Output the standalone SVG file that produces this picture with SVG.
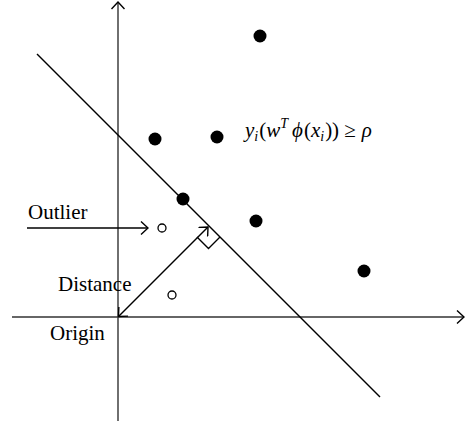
<svg xmlns="http://www.w3.org/2000/svg" width="465" height="421" viewBox="0 0 465 421">
<style>
.ln{stroke:#000;stroke-width:1.4;fill:none}
.ax{stroke:#333;stroke-width:1.4;fill:none}
.lbl{font-family:"Liberation Serif",serif;font-size:21px;fill:#000}
.fm{font-family:"Liberation Serif","DejaVu Serif",serif;font-size:21px;font-style:italic;fill:#000}
.up{font-style:normal}
.sb{font-size:14px}
.dot{fill:#000}
.open{fill:#fff;stroke:#000;stroke-width:1.3}
</style>
<defs>
<marker id="ah2" viewBox="0 0 14 14" refX="13" refY="7" markerWidth="14" markerHeight="14" markerUnits="userSpaceOnUse" orient="auto-start-reverse">
<path d="M6,0.5 L13,7 L6,13.5" fill="none" stroke="#000" stroke-width="1.4"/>
</marker>
</defs>
<g id="connectors">
<line class="ax" x1="118" y1="421" x2="118" y2="2" marker-end="url(#ah2)"/>
<line class="ax" x1="12" y1="317" x2="464" y2="317" marker-end="url(#ah2)"/>
<line class="ln" x1="37" y1="54" x2="380" y2="397"/>
<line class="ln" x1="27" y1="228" x2="148" y2="228" marker-end="url(#ah2)"/>
<line class="ln" x1="118.5" y1="316.5" x2="208" y2="227" marker-start="url(#ah2)" marker-end="url(#ah2)"/>
<path class="ln" d="M197,237 L208.5,248.5 L220,237"/>
</g>
<g id="points">
<circle class="dot" cx="260" cy="36" r="6.5"/>
<circle class="dot" cx="155" cy="139" r="6.5"/>
<circle class="dot" cx="217" cy="137" r="6.5"/>
<circle class="dot" cx="183" cy="199" r="6.5"/>
<circle class="dot" cx="256" cy="221" r="6.5"/>
<circle class="dot" cx="364" cy="271" r="6.5"/>
<circle class="open" cx="162" cy="228" r="4"/>
<circle class="open" cx="172" cy="295" r="4"/>
</g>
<g id="labels">
<text class="lbl" x="28" y="219">Outlier</text>
<text class="lbl" x="58" y="291">Distance</text>
<text class="lbl" x="50" y="340">Origin</text>
<text class="fm" x="245" y="137">y<tspan class="sb" dy="4">i</tspan><tspan class="up" dy="-4" dx="1">(</tspan>w<tspan class="sb" dy="-9">T</tspan><tspan dy="9" dx="4">ϕ</tspan><tspan class="up" dx="1">(</tspan>x<tspan class="sb" dy="4">i</tspan><tspan class="up" dy="-4" dx="1">))</tspan><tspan class="up" dx="5">≥</tspan><tspan dx="6">ρ</tspan></text>
</g>
</svg>
